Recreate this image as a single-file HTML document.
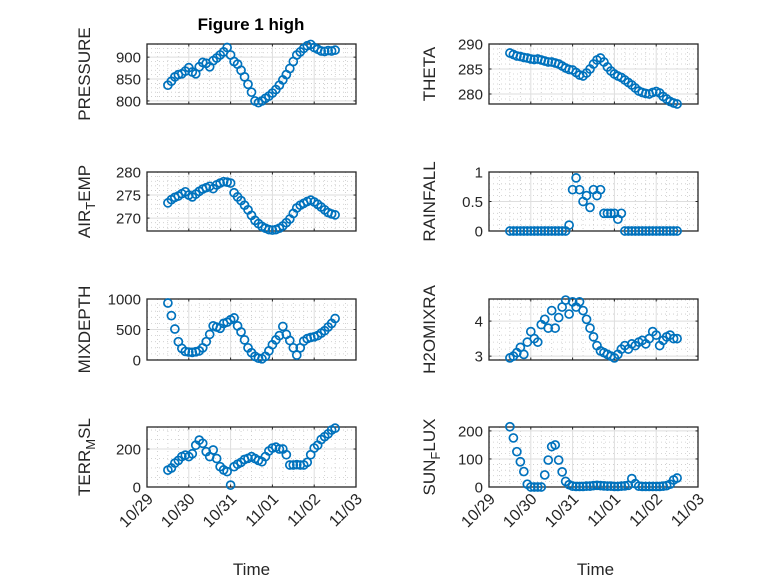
<!DOCTYPE html>
<html><head><meta charset="utf-8"><style>
html,body{margin:0;padding:0;background:#fff;}
svg{display:block;font-family:"Liberation Sans","DejaVu Sans",sans-serif;}
</style></head><body>
<svg id="fig" width="778" height="583" viewBox="0 0 778 583"></svg>
<script>
// time in days since 10/29 00:00, 2-hour steps
const timeStart = 0.5;
const timeStepDays = 1/12;
const xTickLabels = ["10/29","10/30","10/31","11/01","11/02","11/03"];
const pressureVals = [836,845,855,860,862,868,876,866,862,878,888,886,878,892,898,905,912,922,905,890,884,870,855,838,820,800,796,800,806,811,818,826,836,848,860,874,890,905,912,920,926,929,922,918,914,913,915,914,916];
const thetaVals = [288.2,287.9,287.6,287.5,287.3,287.2,287.0,286.9,287.0,286.8,286.6,286.4,286.4,286.2,286.0,285.6,285.2,284.9,284.8,284.3,283.8,283.6,284.2,285.0,286.0,286.8,287.2,286.4,285.4,284.6,284.0,283.6,283.3,282.8,282.3,281.8,281.2,280.6,280.3,280.1,280.0,280.3,280.5,280.2,279.5,279.0,278.5,278.2,278.0];
const airTempVals = [273.3,274.0,274.5,274.8,275.3,275.7,275.0,274.6,275.2,275.8,276.3,276.6,276.9,276.4,277.2,277.6,277.9,277.8,277.6,275.5,274.6,273.8,272.8,271.8,270.6,269.5,268.8,268.2,267.8,267.5,267.4,267.5,267.8,268.3,269.0,269.8,271.0,272.2,272.8,273.2,273.6,273.9,273.5,273.0,272.4,271.8,271.2,270.9,270.7];
const rainfallVals = [0,0,0,0,0,0,0,0,0,0,0,0,0,0,0,0,0,0.1,0.7,0.9,0.7,0.5,0.6,0.4,0.7,0.6,0.7,0.3,0.3,0.3,0.3,0.2,0.3,0,0,0,0,0,0,0,0,0,0,0,0,0,0,0,0];
const mixDepthVals = [934,727,508,300,190,140,130,125,135,150,200,300,420,560,540,520,600,620,660,690,560,460,330,200,120,60,30,20,60,150,250,330,400,550,420,320,200,80,200,310,350,370,380,400,440,480,540,600,680];
const h2oVals = [2.95,3.0,3.1,3.25,3.05,3.4,3.7,3.5,3.4,3.9,4.05,3.8,4.3,3.8,4.1,4.4,4.6,4.2,4.55,4.4,4.55,4.3,4.05,3.8,3.55,3.3,3.15,3.1,3.05,3.0,2.95,3.05,3.2,3.3,3.2,3.35,3.3,3.4,3.45,3.35,3.5,3.7,3.6,3.3,3.45,3.55,3.6,3.5,3.5];
const terrVals = [89,100,126,140,160,168,160,175,220,247,230,186,160,195,150,107,90,81,10,107,120,130,145,151,160,150,140,133,160,190,205,210,200,200,170,116,116,118,116,116,130,170,205,220,250,265,280,300,310];
const sunVals = [215,175,126,90,55,10,0,0,0,0,43,96,144,150,96,54,20,8,3,2,2,2,3,3,5,6,5,4,3,3,2,2,3,4,6,30,12,3,2,2,2,2,2,2,3,5,10,25,32];
const pressureTicks = [800,850,900];
const thetaTicks = [280,285,290];
const airTempTicks = [270,275,280];
const rainfallTicks = [0,0.5,1];
const mixDepthTicks = [0,500,1000];
const h2oTicks = [3,4];
const terrTicks = [0,200];
const sunTicks = [0,100,200];

const NS="http://www.w3.org/2000/svg";
const svg=document.getElementById('fig');
function mk(tag,attrs,parent){const e=document.createElementNS(NS,tag);for(const k in attrs)e.setAttribute(k,attrs[k]);(parent||svg).appendChild(e);return e;}

const cols=[{x0:147,x1:356,lx:90},{x0:489,x1:698,lx:435}];
const rows=[{y0:44,y1:104},{y0:172,y1:231},{y0:299,y1:360},{y0:427,y1:487}];
const panels=[
 {name:'pressure',r:0,c:0,vals:pressureVals,ticks:pressureTicks,ymin:793,ymax:930,minor:10,label:['PRESSURE']},
 {name:'theta',r:0,c:1,vals:thetaVals,ticks:thetaTicks,ymin:278,ymax:290,minor:1,label:['THETA']},
 {name:'air-temp',r:1,c:0,vals:airTempVals,ticks:airTempTicks,ymin:267.2,ymax:280,minor:1,label:['AIR','T','EMP']},
 {name:'rainfall',r:1,c:1,vals:rainfallVals,ticks:rainfallTicks,ymin:0,ymax:1,minor:0.1,label:['RAINFALL']},
 {name:'mixdepth',r:2,c:0,vals:mixDepthVals,ticks:mixDepthTicks,ymin:0,ymax:1000,minor:100,label:['MIXDEPTH']},
 {name:'h2omixra',r:2,c:1,vals:h2oVals,ticks:h2oTicks,ymin:2.89,ymax:4.63,minor:0.2,label:['H2OMIXRA']},
 {name:'terr-msl',r:3,c:0,vals:terrVals,ticks:terrTicks,ymin:0,ymax:316,minor:50,label:['TERR','M','SL']},
 {name:'sun-flux',r:3,c:1,vals:sunVals,ticks:sunTicks,ymin:0,ymax:214,minor:20,label:['SUN','F','LUX']}
];

panels.forEach(p=>{
 const C=cols[p.c],R=rows[p.r];
 const xs=d=>C.x0+(d/5)*(C.x1-C.x0);
 const ys=v=>R.y1-(v-p.ymin)/(p.ymax-p.ymin)*(R.y1-R.y0);
 const g=mk('g',{});
 
 
 for(let d=0;d<5;d+=0.25){ if(Math.abs(d-Math.round(d))<1e-6)continue;
  mk('line',{x1:xs(d),x2:xs(d),y1:R.y0,y2:R.y1,stroke:'#c8c8c8','stroke-width':0.8,'stroke-dasharray':'1,3'},g);}
 const st=Math.ceil(p.ymin/p.minor)*p.minor;
 for(let v=st;v<p.ymax;v+=p.minor){ if(p.ticks.some(t=>Math.abs(t-v)<p.minor/10))continue;
  mk('line',{x1:C.x0,x2:C.x1,y1:ys(v),y2:ys(v),stroke:'#c8c8c8','stroke-width':0.8,'stroke-dasharray':'1,3'},g);}
 for(let d=1;d<5;d++) mk('line',{x1:xs(d),x2:xs(d),y1:R.y0,y2:R.y1,stroke:'#dedede','stroke-width':1},g);
 p.ticks.forEach(t=>{ if(t>p.ymin&&t<p.ymax) mk('line',{x1:C.x0,x2:C.x1,y1:ys(t),y2:ys(t),stroke:'#dedede','stroke-width':1},g);});
 mk('rect',{x:C.x0,y:R.y0,width:C.x1-C.x0,height:R.y1-R.y0,fill:'none',stroke:'#262626','stroke-width':1.3},g);
 for(let d=0;d<=5;d++){mk('line',{x1:xs(d),x2:xs(d),y1:R.y1,y2:R.y1-2.5,stroke:'#262626'},g);mk('line',{x1:xs(d),x2:xs(d),y1:R.y0,y2:R.y0+2.5,stroke:'#262626'},g);}
 p.ticks.forEach(t=>{
  mk('line',{x1:C.x0,x2:C.x0+2.5,y1:ys(t),y2:ys(t),stroke:'#262626'},g);
  mk('line',{x1:C.x1,x2:C.x1-2.5,y1:ys(t),y2:ys(t),stroke:'#262626'},g);
  const tl=mk('text',{x:C.x0-6,y:ys(t)+5.5,'text-anchor':'end','font-size':15,fill:'#262626'},g);
  tl.textContent=String(t);
  
  
 });
 p.vals.forEach((v,i)=>{
  const c=mk('circle',{cx:xs(timeStart+i*timeStepDays),cy:ys(v),r:4,fill:'none',stroke:'#0072BD','stroke-width':1.7},g);
  
  
 });
 const cy=(R.y0+R.y1)/2;
 const yl=mk('text',{x:0,y:0,'text-anchor':'middle','font-size':17,fill:'#262626',transform:`translate(${C.lx},${cy}) rotate(-90)`},g);
 
 
 if(p.label.length===1){yl.textContent=p.label[0];}
 else{const a=mk('tspan',{},yl);a.textContent=p.label[0];
  const b=mk('tspan',{'font-size':13,dy:5},yl);b.textContent=p.label[1];
  const c2=mk('tspan',{dy:-5},yl);c2.textContent=p.label[2];}
 if(p.r===3){
  for(let d=0;d<=5;d++){
   const t=mk('text',{x:0,y:0,'text-anchor':'end','font-size':16,fill:'#262626',transform:`translate(${xs(d)+7},${R.y1+13}) rotate(-45)`},g);
   t.textContent=xTickLabels[d];
   
   
  }
  const xt=mk('text',{x:(C.x0+C.x1)/2+(p.c?2:0),y:575,'text-anchor':'middle','font-size':17,fill:'#262626'},g);
  xt.textContent='Time';
  
  
 }
});
const title=mk('text',{x:251,y:30,'text-anchor':'middle','font-size':17,'font-weight':'bold',fill:'#000'});
title.textContent='Figure 1 high';


</script>
</body></html>
